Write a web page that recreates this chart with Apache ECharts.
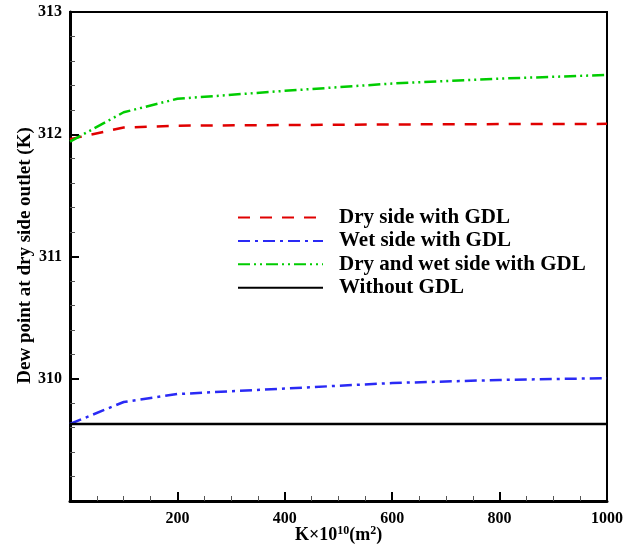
<!DOCTYPE html>
<html>
<head>
<meta charset="utf-8">
<script src="https://cdn.jsdelivr.net/npm/echarts@6/dist/echarts.min.js"></script>
<style>
  html, body { margin: 0; padding: 0; background: #fff; }
  #chart { width: 630px; height: 545px; }
</style>
</head>
<body>
<div id="chart"></div>
<script>
// permeability K (x10^10 m^2)
const kValues = [0, 100, 200, 400, 600, 800, 1000];
const drySide = [311.96, 312.055, 312.07, 312.075, 312.08, 312.083, 312.085];
const wetSide = [309.63, 309.81, 309.875, 309.92, 309.965, 309.99, 310.005];
const bothSides = [311.94, 312.18, 312.29, 312.355, 312.415, 312.455, 312.485];
const withoutGDL = [309.63, 309.63, 309.63, 309.63, 309.63, 309.63, 309.63];
const seriesNames = ['Dry side with GDL', 'Wet side with GDL', 'Dry and wet side with GDL', 'Without GDL'];

const font = '"Liberation Serif", "Times New Roman", serif';
const pair = arr => kValues.map((k, i) => [k, arr[i]]);

const chart = echarts.init(document.getElementById('chart'));

const option = {
  backgroundColor: '#fff',
  animation: false,
  grid: {
    left: 70, right: 23, top: 12, bottom: 44,
    outerBoundsMode: 'none',
    show: true,
    borderColor: '#000',
    borderWidth: 2
  },
  legend: {
    orient: 'vertical',
    left: 232,
    top: 202,
    itemWidth: 85,
    itemHeight: 14,
    itemGap: 2.4,
    data: seriesNames,
    itemStyle: { opacity: 0 },
    textStyle: {
      fontFamily: font,
      fontWeight: 'bold',
      fontSize: 21,
      lineHeight: 14,
      color: '#000',
      padding: [0, 0, 0, 11]
    }
  },
  xAxis: {
    type: 'value',
    min: 0,
    max: 1000,
    interval: 200,
    name: '{a|K×10}{s|10}{a|(m}{s|2}{a|)}',
    nameLocation: 'middle',
    nameGap: 24,
    nameMoveOverlap: false,
    nameTextStyle: {
      rich: {
        a: { fontFamily: font, fontWeight: 'bold', fontSize: 18, color: '#000' },
        s: { fontFamily: font, fontWeight: 'bold', fontSize: 12, color: '#000', verticalAlign: 'top', padding: [0, 0, 8, 0] }
      }
    },
    axisLine: { lineStyle: { color: '#000', width: 3 } },
    axisTick: { inside: true, length: 9, lineStyle: { color: '#000', width: 2 } },
    minorTick: { show: true, splitNumber: 4, length: 5, lineStyle: { color: '#555', width: 1 } },
    splitLine: { show: false },
    axisLabel: {
      fontFamily: font, fontWeight: 'bold', fontSize: 16, color: '#000', margin: 10,
      formatter: v => (v === 0 ? '' : String(v))
    }
  },
  yAxis: {
    type: 'value',
    min: 309,
    max: 313,
    interval: 1,
    name: 'Dew point at dry side outlet (K)',
    nameLocation: 'middle',
    nameGap: 35,
    nameMoveOverlap: false,
    nameTextStyle: { fontFamily: font, fontWeight: 'bold', fontSize: 19, color: '#000', padding: [0, 0, 0, 2] },
    axisLine: { lineStyle: { color: '#000', width: 3 } },
    axisTick: { inside: true, length: 9, lineStyle: { color: '#000', width: 2 } },
    minorTick: { show: true, splitNumber: 5, length: 5, lineStyle: { color: '#555', width: 1 } },
    splitLine: { show: false },
    axisLabel: {
      fontFamily: font, fontWeight: 'bold', fontSize: 16, color: '#000', margin: 8,
      formatter: v => (v === 309 ? '' : String(v))
    }
  },
  series: [
    {
      name: seriesNames[0], type: 'line', symbol: 'none', data: pair(drySide),
      lineStyle: { color: '#e00000', width: 2.5, type: [12, 10] },
      itemStyle: { color: '#e00000' }
    },
    {
      name: seriesNames[1], type: 'line', symbol: 'none', data: pair(wetSide),
      lineStyle: { color: '#2a2af5', width: 2.5, type: [12, 5, 3, 5] },
      itemStyle: { color: '#2a2af5' }
    },
    {
      name: seriesNames[2], type: 'line', symbol: 'none', data: pair(bothSides),
      lineStyle: { color: '#00cc00', width: 2.5, type: [12, 4, 2, 4, 2, 4] },
      itemStyle: { color: '#00cc00' }
    },
    {
      name: seriesNames[3], type: 'line', symbol: 'none', data: pair(withoutGDL),
      lineStyle: { color: '#000', width: 2.5 },
      itemStyle: { color: '#000' }
    }
  ]
};

chart.setOption(option);
</script>
</body>
</html>
